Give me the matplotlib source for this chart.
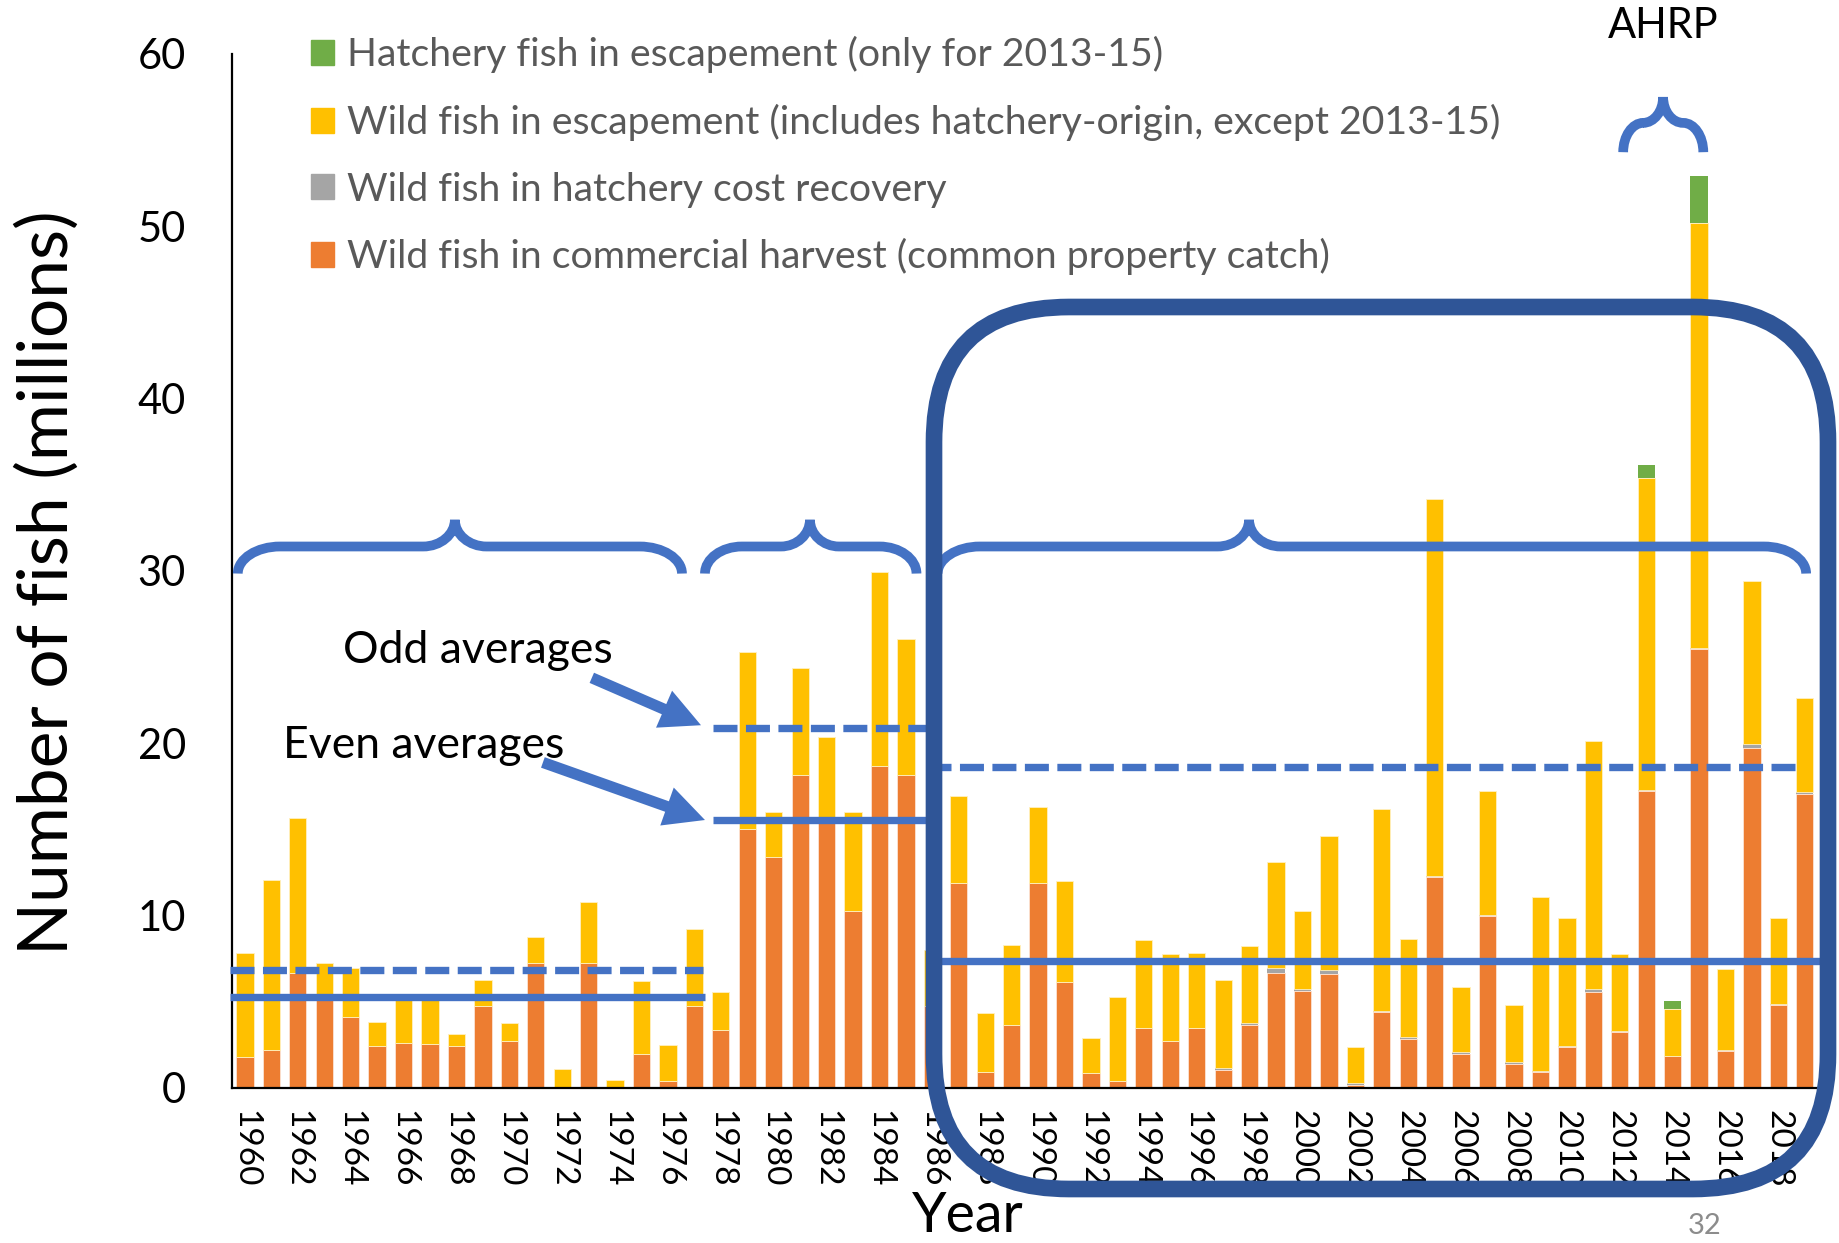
import matplotlib.pyplot as plt
from matplotlib.path import Path
from matplotlib.patches import PathPatch, FancyBboxPatch, Patch

plt.rcParams['font.family'] = ['Lato', 'DejaVu Sans']

years = list(range(1960, 2020))

# millions of fish
harvest = [1.78, 2.22, 6.69, 5.3, 4.13, 2.41, 2.62, 2.56, 2.41, 4.77,
           2.75, 7.27, 0.0, 7.27, 0.0, 1.98, 0.39, 4.77, 3.38, 15.01,
           13.38, 18.15, 15.5, 10.26, 18.67, 18.15, 4.77, 11.87, 0.93, 3.65,
           11.91, 6.16, 0.89, 0.39, 3.46, 2.72, 3.46, 1.04, 3.65, 6.7,
           5.6, 6.64, 0.19, 4.42, 2.82, 12.24, 1.96, 10.0, 1.37, 0.9,
           2.35, 5.57, 3.25, 17.25, 1.84, 25.49, 2.16, 19.73, 4.82, 17.06]
cost_recovery = [0] * 37 + [0.1, 0.15, 0.25, 0.15, 0.2, 0.1, 0.05, 0.12, 0.08,
                            0.15, 0.05, 0.12, 0.1, 0.1, 0.15, 0.05, 0.05, 0.0, 0.05,
                            0.05, 0.25, 0.05, 0.1]
wild_escapement = [6.03, 9.82, 8.99, 1.95, 2.86, 1.40, 2.48, 2.74, 0.71, 1.51,
                   1.01, 1.48, 1.12, 3.55, 0.49, 4.21, 2.13, 4.43, 2.17, 10.26,
                   2.66, 6.24, 4.87, 5.74, 11.27, 7.91, 3.25, 5.10, 3.41, 4.67,
                   4.40, 5.87, 2.01, 4.88, 5.13, 5.08, 4.38, 5.13, 4.44, 6.16,
                   4.52, 7.81, 2.08, 11.69, 5.69, 21.84, 3.73, 7.20, 3.33, 10.06,
                   7.43, 14.44, 4.46, 18.07, 2.75, 24.66, 4.69, 9.43, 5.01, 5.47]
hatchery_escapement = [0] * 53 + [0.79, 0.47, 2.74, 0, 0, 0, 0]

odd_avg = [6.82, 20.86, 18.6]
even_avg = [5.27, 15.53, 7.39]

C_GREEN = '#70AD47'
C_YELLOW = '#FFC000'
C_GRAY = '#A5A5A5'
C_ORANGE = '#ED7D31'
C_BLUE = '#4472C4'
C_DARK = '#2F5597'


def brace(ax, x0, xm, x1, y_tip, y_mid, y_peak, r_end, r_mid):
    k = 0.55
    verts = [
        (x0, y_tip),
        (x0, y_tip + k * (y_mid - y_tip)), (x0 + r_end * (1 - k), y_mid), (x0 + r_end, y_mid),
        (xm - r_mid, y_mid),
        (xm - r_mid * (1 - k), y_mid), (xm, y_peak - k * (y_peak - y_mid)), (xm, y_peak),
        (xm, y_peak - k * (y_peak - y_mid)), (xm + r_mid * (1 - k), y_mid), (xm + r_mid, y_mid),
        (x1 - r_end, y_mid),
        (x1 - r_end * (1 - k), y_mid), (x1, y_tip + k * (y_mid - y_tip)), (x1, y_tip),
    ]
    codes = [Path.MOVETO] + [Path.CURVE4] * 3 + [Path.LINETO] + [Path.CURVE4] * 6 \
        + [Path.LINETO] + [Path.CURVE4] * 3
    ax.add_patch(PathPatch(Path(verts, codes), facecolor='none', edgecolor=C_BLUE,
                           lw=7, capstyle='butt', zorder=4, clip_on=False))


fig = plt.figure(figsize=(18.39, 12.43), dpi=100)
ax = fig.add_axes([0.126, 0.1247, 0.8626, 0.8319])

x = list(range(len(years)))
w = 0.654
b1 = harvest
b2 = [a + b for a, b in zip(b1, cost_recovery)]
b3 = [a + b for a, b in zip(b2, wild_escapement)]
ax.bar(x, harvest, w, color=C_ORANGE, edgecolor='#FBE3D3', lw=0.6, zorder=2)
ax.bar(x, cost_recovery, w, bottom=b1, color=C_GRAY, zorder=2)
ax.bar(x, wild_escapement, w, bottom=b2, color=C_YELLOW, edgecolor='#FFF0C0', lw=0.6, zorder=2)
ax.bar(x, hatchery_escapement, w, bottom=b3, color=C_GREEN, zorder=2)

ax.set_xlim(-0.5, 59.5)
ax.set_ylim(0, 60)
ax.set_yticks(range(0, 61, 10))
ax.tick_params(axis='y', length=0, pad=33, labelsize=30)
ax.set_xticks(x[::2])
ax.set_xticklabels(years[::2], rotation=-90, fontsize=24)
ax.tick_params(axis='x', length=0, pad=16)
for s in ['top', 'right']:
    ax.spines[s].set_visible(False)
for s in ['left', 'bottom']:
    ax.spines[s].set_linewidth(1.6)

# average lines per period (odd dashed, even solid)
dash_spans = [(-0.57, 17.32), (17.7, 25.83), (25.8, 58.9)]
solid_spans = [(-0.57, 17.4), (17.7, 26.1), (26.1, 59.6)]
for (a, b), v in zip(dash_spans, odd_avg):
    ax.plot([a, b], [v, v], color=C_BLUE, lw=5.3, ls=(0, (3.26, 1.15)), zorder=3,
            solid_capstyle='butt', clip_on=False)
for (a, b), v in zip(solid_spans, even_avg):
    ax.plot([a, b], [v, v], color=C_BLUE, lw=5.3, zorder=3, solid_capstyle='butt',
            clip_on=False)

# braces over the periods
brace(ax, -0.27, 7.94, 16.53, 29.85, 31.42, 32.97, 1.6, 1.2)
brace(ax, 17.4, 21.37, 25.4, 29.85, 31.42, 32.97, 1.4, 1.1)
brace(ax, 26.2, 37.98, 59.05, 29.85, 31.42, 32.97, 1.6, 1.2)
brace(ax, 52.13, 53.64, 55.16, 54.3, 56.0, 57.5, 0.76, 0.76)
ax.text(53.64, 61.6, 'AHRP', fontsize=30, ha='center', va='center', clip_on=False)

ax.text(8.8, 25.4, 'Odd averages', fontsize=32, ha='center', va='center')
ax.text(6.76, 19.9, 'Even averages', fontsize=32, ha='center', va='center')
arrow = dict(arrowstyle='simple,head_length=2.9,head_width=2.9,tail_width=0.8',
             mutation_scale=10, color=C_BLUE, lw=0, shrinkA=0, shrinkB=0)
ax.annotate('', xy=(17.25, 21.05), xytext=(13.12, 23.8), arrowprops=arrow, zorder=4)
ax.annotate('', xy=(17.4, 15.55), xytext=(11.27, 18.89), arrowprops=arrow, zorder=4)

handles = [Patch(color=C_GREEN), Patch(color=C_YELLOW), Patch(color=C_GRAY), Patch(color=C_ORANGE)]
labels = ['Hatchery fish in escapement (only for 2013-15)',
          'Wild fish in escapement (includes hatchery-origin, except 2013-15)',
          'Wild fish in hatchery cost recovery',
          'Wild fish in commercial harvest (common property catch)']
ax.legend(handles, labels, loc='upper left', bbox_to_anchor=(0.169, 0.971),
          bbox_transform=fig.transFigure, frameon=False, fontsize=28.3,
          labelcolor='#595959', handlelength=0.6, handleheight=0.6,
          handletextpad=0.33, labelspacing=0.78, borderpad=0, borderaxespad=0)

fig.text(0.0256, 0.531, 'Number of fish (millions)', rotation=90, ha='center',
         va='center', fontsize=50)
fig.text(0.526, 0.001, 'Year', ha='center', va='bottom', fontsize=40)
fig.text(0.927, 0.014, '32', ha='center', va='center', fontsize=21, color='#8C8C8C')

box = FancyBboxPatch((9.34, 0.54), 8.94, 8.82, boxstyle='round,pad=0,rounding_size=1.35',
                     transform=fig.dpi_scale_trans, facecolor='none', edgecolor=C_DARK,
                     lw=12, zorder=10)
fig.add_artist(box)

fig.savefig('out.png', dpi=100)
